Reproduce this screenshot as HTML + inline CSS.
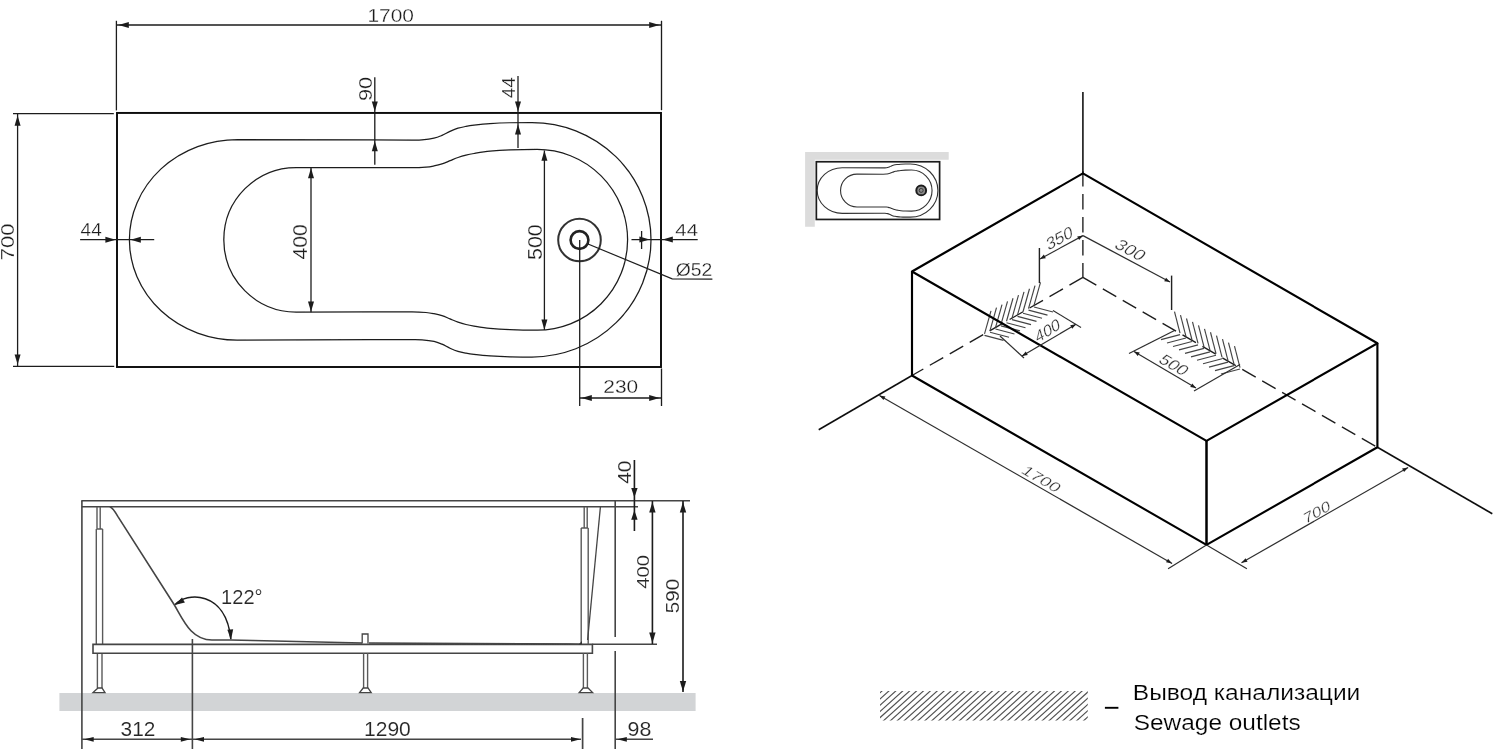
<!DOCTYPE html>
<html lang="ru">
<head>
<meta charset="utf-8">
<title>Bathtub dimensions</title>
<style>
html,body{margin:0;padding:0;background:#fff;}
body{width:1500px;height:749px;overflow:hidden;}
svg{display:block;}
text{white-space:pre;}
</style>
</head>
<body>
<svg width="1500" height="749" viewBox="0 0 1500 749">
<defs><filter id="soft" x="0" y="0" width="1500" height="749" filterUnits="userSpaceOnUse"><feGaussianBlur stdDeviation="0.42"/></filter></defs>
<rect x="0" y="0" width="1500" height="749" fill="#ffffff"/>
<g filter="url(#soft)">
<rect x="117.0" y="112.95" width="544.0" height="254.05" fill="none" stroke="#0a0a0a" stroke-width="1.95"/>
<path d="M 237.4 139.5 L 412 140 C 415.33 140.00 418.33 140.10 422.00 139.80 C 425.67 139.50 430.67 138.93 434.00 138.20 C 437.33 137.47 439.33 136.53 442.00 135.40 C 444.67 134.27 447.33 132.60 450.00 131.40 C 452.67 130.20 455.33 129.03 458.00 128.20 C 460.67 127.37 463.33 126.90 466.00 126.40 C 468.67 125.90 470.00 125.66 474.00 125.20 C 478.00 124.74 484.00 124.06 490.00 123.65 C 496.00 123.24 503.00 122.92 510.00 122.75 C 517.00 122.58 524.67 122.60 532.00 122.60 A 119 117.2 0 0 1 532 357.00 C 524.67 357.00 517.00 357.03 510.00 356.85 C 503.00 356.68 496.00 356.36 490.00 355.95 C 484.00 355.54 478.00 354.86 474.00 354.40 C 470.00 353.94 468.67 353.70 466.00 353.20 C 463.33 352.70 460.67 352.23 458.00 351.40 C 455.33 350.57 452.67 349.40 450.00 348.20 C 447.33 347.00 444.67 345.33 442.00 344.20 C 439.33 343.07 437.33 342.13 434.00 341.40 C 430.67 340.67 425.67 340.10 422.00 339.80 C 418.33 339.50 415.33 339.60 412.00 339.60 L 237.4 340.10 A 108 100.3 0 0 1 237.4 139.5 Z" stroke="#1c1c1c" stroke-width="1.25" fill="none" />
<path d="M 296.1 167.5 L 412 167.7 C 416.67 167.70 422.33 167.40 426.00 167.10 C 429.67 166.80 431.33 166.43 434.00 165.90 C 436.67 165.37 439.33 164.77 442.00 163.90 C 444.67 163.03 447.33 161.77 450.00 160.70 C 452.67 159.63 455.33 158.43 458.00 157.50 C 460.67 156.57 463.33 155.77 466.00 155.10 C 468.67 154.43 470.00 154.15 474.00 153.50 C 478.00 152.85 484.00 151.80 490.00 151.20 C 496.00 150.60 502.13 150.20 510.00 149.90 C 517.87 149.60 528.13 149.40 537.20 149.40 A 90.4 90.4 0 0 1 537.2 330.20 C 528.13 330.20 517.87 330.00 510.00 329.70 C 502.13 329.40 496.00 329.00 490.00 328.40 C 484.00 327.80 478.00 326.75 474.00 326.10 C 470.00 325.45 468.67 325.17 466.00 324.50 C 463.33 323.83 460.67 323.03 458.00 322.10 C 455.33 321.17 452.67 319.97 450.00 318.90 C 447.33 317.83 444.67 316.57 442.00 315.70 C 439.33 314.83 436.67 314.23 434.00 313.70 C 431.33 313.17 429.67 312.80 426.00 312.50 C 422.33 312.20 416.67 311.90 412.00 311.90 L 296.1 312.10 A 72.3 72.3 0 0 1 296.1 167.5 Z" stroke="#1c1c1c" stroke-width="1.25" fill="none" />
<circle cx="579.5" cy="240.0" r="21.3" fill="none" stroke="#333" stroke-width="2.0"/>
<circle cx="579.5" cy="240.0" r="8.9" fill="none" stroke="#222" stroke-width="2.6"/>
<line x1="116.40" y1="20.80" x2="116.40" y2="110.40" stroke="#1c1c1c" stroke-width="1.3" />
<line x1="661.50" y1="20.80" x2="661.50" y2="110.20" stroke="#1c1c1c" stroke-width="1.3" />
<line x1="117.00" y1="25.00" x2="661.50" y2="25.00" stroke="#1c1c1c" stroke-width="1.3" />
<polygon points="118.60,25.00 128.80,22.00 128.80,28.00" fill="#1c1c1c"/>
<polygon points="659.40,25.00 649.20,28.00 649.20,22.00" fill="#1c1c1c"/>
<text transform="translate(391.10,15.70) rotate(0) scale(1.1060,1) translate(-21.402,6.511)" font-family='"Liberation Sans", sans-serif' font-size="18.94" fill="#1c1c1c" stroke="#fff" stroke-width="0.26">1700</text>
<line x1="13.00" y1="113.60" x2="113.80" y2="113.60" stroke="#1c1c1c" stroke-width="1.3" />
<line x1="13.00" y1="366.35" x2="114.20" y2="366.35" stroke="#1c1c1c" stroke-width="1.3" />
<line x1="17.60" y1="114.00" x2="17.60" y2="366.40" stroke="#1c1c1c" stroke-width="1.3" />
<polygon points="17.60,115.60 20.60,125.80 14.60,125.80" fill="#1c1c1c"/>
<polygon points="17.60,364.60 14.60,354.40 20.60,354.40" fill="#1c1c1c"/>
<text transform="translate(8.00,241.70) rotate(-90) scale(1.2174,1) translate(-15.197,6.219)" font-family='"Liberation Sans", sans-serif' font-size="18.09" fill="#1c1c1c" stroke="#fff" stroke-width="0.26">700</text>
<line x1="374.80" y1="77.30" x2="374.80" y2="164.80" stroke="#1c1c1c" stroke-width="1.3" />
<polygon points="374.80,111.60 371.80,101.40 377.80,101.40" fill="#1c1c1c"/>
<polygon points="374.80,141.00 377.80,151.20 371.80,151.20" fill="#1c1c1c"/>
<text transform="translate(365.05,88.80) rotate(-90) scale(1.1453,1) translate(-10.686,6.559)" font-family='"Liberation Sans", sans-serif' font-size="19.08" fill="#1c1c1c" stroke="#fff" stroke-width="0.26">90</text>
<line x1="518.00" y1="76.00" x2="518.00" y2="148.10" stroke="#1c1c1c" stroke-width="1.3" />
<polygon points="518.00,111.60 515.00,101.40 521.00,101.40" fill="#1c1c1c"/>
<polygon points="518.00,124.20 521.00,134.40 515.00,134.40" fill="#1c1c1c"/>
<text transform="translate(508.90,87.70) rotate(-90) scale(1.0235,1) translate(-10.287,6.400)" font-family='"Liberation Sans", sans-serif' font-size="18.62" fill="#1c1c1c" stroke="#fff" stroke-width="0.26">44</text>
<line x1="80.10" y1="239.65" x2="154.20" y2="239.65" stroke="#1c1c1c" stroke-width="1.3" />
<polygon points="115.60,239.65 105.40,242.65 105.40,236.65" fill="#1c1c1c"/>
<polygon points="130.60,239.65 140.80,236.65 140.80,242.65" fill="#1c1c1c"/>
<text transform="translate(91.10,230.38) rotate(0) scale(1.0783,1) translate(-9.764,6.075)" font-family='"Liberation Sans", sans-serif' font-size="17.67" fill="#1c1c1c" stroke="#fff" stroke-width="0.26">44</text>
<line x1="631.50" y1="239.60" x2="697.70" y2="239.60" stroke="#1c1c1c" stroke-width="1.3" />
<polygon points="649.60,239.60 639.40,242.60 639.40,236.60" fill="#1c1c1c"/>
<polygon points="662.60,239.60 672.80,236.60 672.80,242.60" fill="#1c1c1c"/>
<line x1="641.60" y1="231.00" x2="641.60" y2="249.00" stroke="#1c1c1c" stroke-width="1.3" />
<text transform="translate(686.60,230.30) rotate(0) scale(1.2289,1) translate(-9.161,5.700)" font-family='"Liberation Sans", sans-serif' font-size="16.58" fill="#1c1c1c" stroke="#fff" stroke-width="0.26">44</text>
<line x1="311.00" y1="167.60" x2="311.00" y2="312.30" stroke="#1c1c1c" stroke-width="1.3" />
<polygon points="311.00,168.00 314.00,178.20 308.00,178.20" fill="#1c1c1c"/>
<polygon points="311.00,311.80 308.00,301.60 314.00,301.60" fill="#1c1c1c"/>
<text transform="translate(300.05,242.05) rotate(-90) scale(1.0644,1) translate(-16.467,6.851)" font-family='"Liberation Sans", sans-serif' font-size="19.93" fill="#1c1c1c" stroke="#fff" stroke-width="0.26">400</text>
<line x1="544.40" y1="150.50" x2="544.40" y2="330.00" stroke="#1c1c1c" stroke-width="1.3" />
<polygon points="544.40,150.60 547.40,160.80 541.40,160.80" fill="#1c1c1c"/>
<polygon points="544.40,329.80 541.40,319.60 547.40,319.60" fill="#1c1c1c"/>
<text transform="translate(534.40,242.10) rotate(-90) scale(1.0282,1) translate(-17.467,7.191)" font-family='"Liberation Sans", sans-serif' font-size="20.92" fill="#1c1c1c" stroke="#fff" stroke-width="0.26">500</text>
<path d="M 588.0 244.0 L 672.2 278.8 L 712.4 279.2" stroke="#1c1c1c" stroke-width="1.3" fill="none" />
<text transform="translate(693.95,269.55) rotate(0) scale(1.0039,1) translate(-18.056,6.620)" font-family='"Liberation Sans", sans-serif' font-size="19.26" fill="#1c1c1c" stroke="#fff" stroke-width="0.26">Ø52</text>
<line x1="579.70" y1="240.00" x2="579.70" y2="406.00" stroke="#1c1c1c" stroke-width="1.3" />
<line x1="661.50" y1="368.50" x2="661.50" y2="406.00" stroke="#1c1c1c" stroke-width="1.3" />
<line x1="579.70" y1="398.00" x2="661.50" y2="398.00" stroke="#1c1c1c" stroke-width="1.3" />
<polygon points="581.60,398.00 591.80,395.00 591.80,401.00" fill="#1c1c1c"/>
<polygon points="659.40,398.00 649.20,401.00 649.20,395.00" fill="#1c1c1c"/>
<text transform="translate(620.85,386.45) rotate(0) scale(1.0913,1) translate(-16.028,6.559)" font-family='"Liberation Sans", sans-serif' font-size="19.08" fill="#1c1c1c" stroke="#fff" stroke-width="0.26">230</text>
<rect x="59.4" y="693" width="636.2" height="18" fill="#d2d4d6"/>
<line x1="81.30" y1="500.70" x2="690.00" y2="500.70" stroke="#444444" stroke-width="1.6" />
<line x1="81.70" y1="506.80" x2="638.00" y2="506.80" stroke="#444444" stroke-width="1.6" />
<line x1="81.90" y1="500.70" x2="81.90" y2="749.00" stroke="#444444" stroke-width="1.6" />
<path d="M 97 507 L 97 529 M 100.2 507 L 100.2 529 M 96.3 529 L 102.6 529 M 96.3 529 L 96.3 644.4 M 102.6 529 L 102.6 644.4" stroke="#5a5a5a" stroke-width="1.4" fill="none" />
<path d="M 97.4 653.2 L 97.4 688 M 102 653.2 L 102 688" stroke="#5a5a5a" stroke-width="1.4" fill="none" />
<path d="M 98 688 L 102 688 L 105 692.6 L 93 692.6 Z" stroke="#444444" stroke-width="1.3" fill="#fff" />
<path d="M 93 644.4 L 592.4 644.4 L 592.4 653.2 L 93 653.2 Z" stroke="#444444" stroke-width="1.6" fill="none" />
<path d="M 109.8 506.8 C 113 508 115 511.5 117.8 516.4 L 174.4 605 C 183 619.5 191 640 212 640 L 231 640 L 362 643 M 369 643 L 580 644.2" stroke="#444444" stroke-width="1.6" fill="none" />
<path d="M 362.2 643.4 L 362.2 634 L 368 634 L 368 643.4" stroke="#444444" stroke-width="1.3" fill="none" />
<path d="M 363.6 653.2 L 363.6 688 M 367.6 653.2 L 367.6 688" stroke="#5a5a5a" stroke-width="1.4" fill="none" />
<path d="M 363.2 688 L 368 688 L 371.2 692.6 L 359.6 692.6 Z" stroke="#444444" stroke-width="1.3" fill="#fff" />
<path d="M 584.2 507 L 584.2 528 M 587.2 507 L 587.2 528 M 581.2 528 L 588.2 528 M 581.2 528 L 581.2 644.4 M 588.2 528 L 588.2 644.4" stroke="#5a5a5a" stroke-width="1.4" fill="none" />
<path d="M 583.4 653.2 L 583.4 688 M 587.4 653.2 L 587.4 688" stroke="#5a5a5a" stroke-width="1.4" fill="none" />
<path d="M 583.2 688 L 588 688 L 592.6 692.6 L 579.2 692.6 Z" stroke="#444444" stroke-width="1.3" fill="#fff" />
<path d="M 600.4 507 L 587.6 640" stroke="#444444" stroke-width="1.3" fill="none" />
<polygon points="578.6,644.4 582,641 582,644.4" fill="#333"/>
<line x1="615.20" y1="500.70" x2="615.20" y2="637.00" stroke="#444444" stroke-width="1.6" />
<line x1="615.20" y1="651.00" x2="615.20" y2="749.00" stroke="#444444" stroke-width="1.6" />
<path d="M 175.2 604.6 C 186 592 226 590 230.8 639" stroke="#1c1c1c" stroke-width="1.5" fill="none" />
<polygon points="174.80,605.00 182.01,597.49 184.91,602.51" fill="#1c1c1c"/>
<polygon points="231.00,640.00 227.37,629.73 233.16,629.32" fill="#1c1c1c"/>
<text transform="translate(242.00,597.50) rotate(0) scale(1.0148,1) translate(-20.601,6.900)" font-family='"Liberation Sans", sans-serif' font-size="19.78" fill="#262626" stroke="#fff" stroke-width="0.12">122°</text>
<line x1="192.40" y1="639.00" x2="192.40" y2="749.00" stroke="#444444" stroke-width="1.6" />
<line x1="82.10" y1="739.30" x2="581.00" y2="739.30" stroke="#444444" stroke-width="1.5" />
<polygon points="84.20,739.30 93.70,736.90 93.70,741.70" fill="#1c1c1c"/>
<polygon points="190.30,739.30 180.80,741.70 180.80,736.90" fill="#1c1c1c"/>
<polygon points="194.50,739.30 204.00,736.90 204.00,741.70" fill="#1c1c1c"/>
<polygon points="580.50,739.30 571.00,741.70 571.00,736.90" fill="#1c1c1c"/>
<line x1="582.60" y1="718.00" x2="582.60" y2="749.00" stroke="#444444" stroke-width="1.7" />
<line x1="615.20" y1="739.30" x2="653.00" y2="739.30" stroke="#444444" stroke-width="1.5" />
<polygon points="617.30,739.30 626.80,736.90 626.80,741.70" fill="#1c1c1c"/>
<text transform="translate(137.90,729.60) rotate(0) scale(1.0406,1) translate(-16.608,6.899)" font-family='"Liberation Sans", sans-serif' font-size="20.07" fill="#262626" stroke="#fff" stroke-width="0.12">312</text>
<text transform="translate(387.80,729.60) rotate(0) scale(1.0484,1) translate(-22.680,6.899)" font-family='"Liberation Sans", sans-serif' font-size="20.07" fill="#262626" stroke="#fff" stroke-width="0.12">1290</text>
<text transform="translate(639.50,729.60) rotate(0) scale(1.0649,1) translate(-11.189,6.899)" font-family='"Liberation Sans", sans-serif' font-size="20.07" fill="#262626" stroke="#fff" stroke-width="0.12">98</text>
<line x1="634.40" y1="460.00" x2="634.40" y2="531.00" stroke="#1c1c1c" stroke-width="1.6" />
<polygon points="634.40,497.60 631.20,488.10 637.60,488.10" fill="#1c1c1c"/>
<polygon points="634.40,510.20 637.60,519.70 631.20,519.70" fill="#1c1c1c"/>
<text transform="translate(625.00,472.50) rotate(-90) scale(1.1476,1) translate(-9.905,6.219)" font-family='"Liberation Sans", sans-serif' font-size="18.09" fill="#262626" stroke="#fff" stroke-width="0.12">40</text>
<line x1="592.40" y1="644.20" x2="657.00" y2="644.20" stroke="#444444" stroke-width="1.5" />
<line x1="652.40" y1="501.00" x2="652.40" y2="644.00" stroke="#1c1c1c" stroke-width="1.6" />
<polygon points="652.40,502.00 655.60,512.50 649.20,512.50" fill="#1c1c1c"/>
<polygon points="652.40,643.00 649.20,632.50 655.60,632.50" fill="#1c1c1c"/>
<text transform="translate(643.50,572.00) rotate(-90) scale(1.2234,1) translate(-13.781,5.733)" font-family='"Liberation Sans", sans-serif' font-size="16.68" fill="#262626" stroke="#fff" stroke-width="0.12">400</text>
<line x1="683.00" y1="501.00" x2="683.00" y2="692.00" stroke="#1c1c1c" stroke-width="1.6" />
<polygon points="683.00,502.00 686.20,512.50 679.80,512.50" fill="#1c1c1c"/>
<polygon points="683.00,691.60 679.80,681.10 686.20,681.10" fill="#1c1c1c"/>
<text transform="translate(673.00,596.00) rotate(-90) scale(1.1402,1) translate(-15.107,6.219)" font-family='"Liberation Sans", sans-serif' font-size="18.09" fill="#262626" stroke="#fff" stroke-width="0.12">590</text>
<path d="M 805.1 152 L 948.7 152 L 948.7 159.8 L 814.8 159.8 L 814.8 226.7 L 805.1 226.7 Z" fill="#dcdcdc"/>
<rect x="816.35" y="161.75" width="123.25" height="57.69999999999999" fill="#fff" stroke="#1a1a1a" stroke-width="1.7"/>
<g transform="translate(817.2,161.75) scale(0.2314,0.2271) translate(-129.4,-112.95)">
<path d="M 237.4 139.5 L 412 140 C 415.33 140.00 418.33 140.10 422.00 139.80 C 425.67 139.50 430.67 138.93 434.00 138.20 C 437.33 137.47 439.33 136.53 442.00 135.40 C 444.67 134.27 447.33 132.60 450.00 131.40 C 452.67 130.20 455.33 129.03 458.00 128.20 C 460.67 127.37 463.33 126.90 466.00 126.40 C 468.67 125.90 470.00 125.66 474.00 125.20 C 478.00 124.74 484.00 124.06 490.00 123.65 C 496.00 123.24 503.00 122.92 510.00 122.75 C 517.00 122.58 524.67 122.60 532.00 122.60 A 119 117.2 0 0 1 532 357.00 C 524.67 357.00 517.00 357.03 510.00 356.85 C 503.00 356.68 496.00 356.36 490.00 355.95 C 484.00 355.54 478.00 354.86 474.00 354.40 C 470.00 353.94 468.67 353.70 466.00 353.20 C 463.33 352.70 460.67 352.23 458.00 351.40 C 455.33 350.57 452.67 349.40 450.00 348.20 C 447.33 347.00 444.67 345.33 442.00 344.20 C 439.33 343.07 437.33 342.13 434.00 341.40 C 430.67 340.67 425.67 340.10 422.00 339.80 C 418.33 339.50 415.33 339.60 412.00 339.60 L 237.4 340.10 A 108 100.3 0 0 1 237.4 139.5 Z" fill="none" stroke="#333" stroke-width="1.1" vector-effect="non-scaling-stroke"/>
</g>
<g transform="translate(816.35,161.75) scale(0.2266,0.2271) translate(-117.0,-112.95)">
<path d="M 296.1 167.5 L 412 167.7 C 416.67 167.70 422.33 167.40 426.00 167.10 C 429.67 166.80 431.33 166.43 434.00 165.90 C 436.67 165.37 439.33 164.77 442.00 163.90 C 444.67 163.03 447.33 161.77 450.00 160.70 C 452.67 159.63 455.33 158.43 458.00 157.50 C 460.67 156.57 463.33 155.77 466.00 155.10 C 468.67 154.43 470.00 154.15 474.00 153.50 C 478.00 152.85 484.00 151.80 490.00 151.20 C 496.00 150.60 502.13 150.20 510.00 149.90 C 517.87 149.60 528.13 149.40 537.20 149.40 A 90.4 90.4 0 0 1 537.2 330.20 C 528.13 330.20 517.87 330.00 510.00 329.70 C 502.13 329.40 496.00 329.00 490.00 328.40 C 484.00 327.80 478.00 326.75 474.00 326.10 C 470.00 325.45 468.67 325.17 466.00 324.50 C 463.33 323.83 460.67 323.03 458.00 322.10 C 455.33 321.17 452.67 319.97 450.00 318.90 C 447.33 317.83 444.67 316.57 442.00 315.70 C 439.33 314.83 436.67 314.23 434.00 313.70 C 431.33 313.17 429.67 312.80 426.00 312.50 C 422.33 312.20 416.67 311.90 412.00 311.90 L 296.1 312.10 A 72.3 72.3 0 0 1 296.1 167.5 Z" fill="none" stroke="#333" stroke-width="1.1" vector-effect="non-scaling-stroke"/>
</g>
<circle cx="921.2" cy="190.4" r="4.9" fill="#8a8a8a" stroke="#1a1a1a" stroke-width="2.0"/>
<circle cx="921.2" cy="190.4" r="2.0" fill="none" stroke="#333" stroke-width="0.9"/>
<line x1="1082.90" y1="92.00" x2="1082.90" y2="173.40" stroke="#222" stroke-width="1.7" />
<line x1="1082.90" y1="170.90" x2="1082.90" y2="277.40" stroke="#1c1c1c" stroke-width="1.35" stroke-dasharray="15.5 7.5"/>
<line x1="1082.90" y1="277.40" x2="912.00" y2="375.50" stroke="#1c1c1c" stroke-width="1.35" stroke-dasharray="15.5 7.5"/>
<line x1="1082.90" y1="277.40" x2="1377.40" y2="447.30" stroke="#1c1c1c" stroke-width="1.35" stroke-dasharray="15.5 7.5"/>
<line x1="912.00" y1="375.50" x2="818.70" y2="429.70" stroke="#111" stroke-width="1.6" />
<line x1="1377.40" y1="447.30" x2="1492.30" y2="513.80" stroke="#111" stroke-width="1.6" />
<line x1="1034.00" y1="305.45" x2="1040.50" y2="282.45" stroke="#444" stroke-width="1.15" />
<line x1="1034.00" y1="306.95" x2="1053.00" y2="311.95" stroke="#444" stroke-width="1.15" />
<line x1="1028.50" y1="308.61" x2="1035.00" y2="285.61" stroke="#444" stroke-width="1.15" />
<line x1="1028.50" y1="310.11" x2="1047.50" y2="315.11" stroke="#444" stroke-width="1.15" />
<line x1="1023.00" y1="311.76" x2="1029.50" y2="288.76" stroke="#444" stroke-width="1.15" />
<line x1="1023.00" y1="313.26" x2="1042.00" y2="318.26" stroke="#444" stroke-width="1.15" />
<line x1="1017.50" y1="314.92" x2="1024.00" y2="291.92" stroke="#444" stroke-width="1.15" />
<line x1="1017.50" y1="316.42" x2="1036.50" y2="321.42" stroke="#444" stroke-width="1.15" />
<line x1="1012.00" y1="318.08" x2="1018.50" y2="295.08" stroke="#444" stroke-width="1.15" />
<line x1="1012.00" y1="319.58" x2="1031.00" y2="324.58" stroke="#444" stroke-width="1.15" />
<line x1="1006.50" y1="321.23" x2="1013.00" y2="298.23" stroke="#444" stroke-width="1.15" />
<line x1="1006.50" y1="322.73" x2="1025.50" y2="327.73" stroke="#444" stroke-width="1.15" />
<line x1="1001.00" y1="324.39" x2="1007.50" y2="301.39" stroke="#444" stroke-width="1.15" />
<line x1="1001.00" y1="325.89" x2="1020.00" y2="330.89" stroke="#444" stroke-width="1.15" />
<line x1="995.50" y1="327.54" x2="1002.00" y2="304.54" stroke="#444" stroke-width="1.15" />
<line x1="995.50" y1="329.04" x2="1014.50" y2="334.04" stroke="#444" stroke-width="1.15" />
<line x1="990.00" y1="330.70" x2="996.50" y2="307.70" stroke="#444" stroke-width="1.15" />
<line x1="990.00" y1="332.20" x2="1009.00" y2="337.20" stroke="#444" stroke-width="1.15" />
<line x1="984.50" y1="333.85" x2="991.00" y2="310.85" stroke="#444" stroke-width="1.15" />
<line x1="984.50" y1="335.35" x2="1003.50" y2="340.35" stroke="#444" stroke-width="1.15" />
<line x1="1180.00" y1="333.11" x2="1174.50" y2="311.61" stroke="#444" stroke-width="1.15" />
<line x1="1180.00" y1="334.61" x2="1161.00" y2="339.61" stroke="#444" stroke-width="1.15" />
<line x1="1186.00" y1="336.55" x2="1180.50" y2="315.05" stroke="#444" stroke-width="1.15" />
<line x1="1186.00" y1="338.05" x2="1167.00" y2="343.05" stroke="#444" stroke-width="1.15" />
<line x1="1192.00" y1="339.99" x2="1186.50" y2="318.49" stroke="#444" stroke-width="1.15" />
<line x1="1192.00" y1="341.49" x2="1173.00" y2="346.49" stroke="#444" stroke-width="1.15" />
<line x1="1198.00" y1="343.43" x2="1192.50" y2="321.93" stroke="#444" stroke-width="1.15" />
<line x1="1198.00" y1="344.93" x2="1179.00" y2="349.93" stroke="#444" stroke-width="1.15" />
<line x1="1204.00" y1="346.88" x2="1198.50" y2="325.38" stroke="#444" stroke-width="1.15" />
<line x1="1204.00" y1="348.38" x2="1185.00" y2="353.38" stroke="#444" stroke-width="1.15" />
<line x1="1210.00" y1="350.32" x2="1204.50" y2="328.82" stroke="#444" stroke-width="1.15" />
<line x1="1210.00" y1="351.82" x2="1191.00" y2="356.82" stroke="#444" stroke-width="1.15" />
<line x1="1216.00" y1="353.76" x2="1210.50" y2="332.26" stroke="#444" stroke-width="1.15" />
<line x1="1216.00" y1="355.26" x2="1197.00" y2="360.26" stroke="#444" stroke-width="1.15" />
<line x1="1222.00" y1="357.20" x2="1216.50" y2="335.70" stroke="#444" stroke-width="1.15" />
<line x1="1222.00" y1="358.70" x2="1203.00" y2="363.70" stroke="#444" stroke-width="1.15" />
<line x1="1228.00" y1="360.64" x2="1222.50" y2="339.14" stroke="#444" stroke-width="1.15" />
<line x1="1228.00" y1="362.14" x2="1209.00" y2="367.14" stroke="#444" stroke-width="1.15" />
<line x1="1234.00" y1="364.09" x2="1228.50" y2="342.59" stroke="#444" stroke-width="1.15" />
<line x1="1234.00" y1="365.59" x2="1215.00" y2="370.59" stroke="#444" stroke-width="1.15" />
<line x1="1240.00" y1="367.53" x2="1234.50" y2="346.03" stroke="#444" stroke-width="1.15" />
<line x1="1240.00" y1="369.03" x2="1221.00" y2="374.03" stroke="#444" stroke-width="1.15" />
<path d="M 1082.9 173.4 L 912.0 271.5 L 1206.5 440.9 L 1377.4 343.3 Z" stroke="#000" stroke-width="2.15" fill="none" stroke-linejoin="round"/>
<path d="M 912.0 271.5 L 912.0 375.5 L 1206.5 544.9 L 1377.4 447.3 L 1377.4 343.3" stroke="#000" stroke-width="2.15" fill="none" stroke-linejoin="round"/>
<line x1="1206.50" y1="440.90" x2="1206.50" y2="544.90" stroke="#000" stroke-width="2.5" />
<line x1="1206.50" y1="544.90" x2="1168.10" y2="568.80" stroke="#2e2e2e" stroke-width="1.2" />
<line x1="879.40" y1="395.40" x2="1172.10" y2="563.40" stroke="#2e2e2e" stroke-width="1.2" />
<polygon points="879.40,395.40 885.42,396.56 883.43,400.03" fill="#1c1c1c"/>
<polygon points="1172.10,563.40 1166.08,562.24 1168.07,558.77" fill="#1c1c1c"/>
<text transform="translate(1041.80,479.20) rotate(29.9) skewX(-16) scale(1.3077,1) translate(-15.972,4.859)" font-family='"Liberation Sans", sans-serif' font-size="14.13" fill="#2e2e2e" stroke="#fff" stroke-width="0.26">1700</text>
<line x1="1206.50" y1="544.90" x2="1246.90" y2="568.80" stroke="#2e2e2e" stroke-width="1.2" />
<line x1="1241.50" y1="562.80" x2="1408.10" y2="467.40" stroke="#2e2e2e" stroke-width="1.2" />
<polygon points="1241.50,562.80 1245.54,558.18 1247.53,561.65" fill="#1c1c1c"/>
<polygon points="1408.10,467.40 1404.06,472.02 1402.07,468.55" fill="#1c1c1c"/>
<text transform="translate(1317.00,512.00) rotate(-29.8) skewX(-16) scale(1.2538,1) translate(-11.873,4.859)" font-family='"Liberation Sans", sans-serif' font-size="14.13" fill="#2e2e2e" stroke="#fff" stroke-width="0.26">700</text>
<line x1="1039.40" y1="248.00" x2="1039.40" y2="283.00" stroke="#222" stroke-width="1.4" />
<line x1="1040.00" y1="259.00" x2="1083.00" y2="235.60" stroke="#2e2e2e" stroke-width="1.2" />
<polygon points="1040.00,259.00 1043.88,254.62 1045.79,258.13" fill="#1c1c1c"/>
<polygon points="1083.00,235.60 1079.12,239.98 1077.21,236.47" fill="#1c1c1c"/>
<text transform="translate(1059.50,238.00) rotate(-28.5) skewX(-16) scale(1.0817,1) translate(-13.552,5.587)" font-family='"Liberation Sans", sans-serif' font-size="16.25" fill="#2e2e2e" stroke="#fff" stroke-width="0.26">350</text>
<line x1="1171.60" y1="275.60" x2="1171.60" y2="310.00" stroke="#222" stroke-width="1.4" />
<line x1="1083.00" y1="235.60" x2="1170.00" y2="282.00" stroke="#2e2e2e" stroke-width="1.2" />
<polygon points="1170.00,282.00 1164.20,281.18 1166.08,277.65" fill="#1c1c1c"/>
<text transform="translate(1130.50,250.00) rotate(28) skewX(-16) scale(1.1203,1) translate(-13.552,5.587)" font-family='"Liberation Sans", sans-serif' font-size="16.25" fill="#2e2e2e" stroke="#fff" stroke-width="0.26">300</text>
<line x1="1053.00" y1="310.50" x2="1081.00" y2="327.50" stroke="#2e2e2e" stroke-width="1.2" />
<line x1="1000.00" y1="336.00" x2="1024.00" y2="358.00" stroke="#2e2e2e" stroke-width="1.2" />
<line x1="1076.00" y1="324.30" x2="1022.00" y2="356.00" stroke="#2e2e2e" stroke-width="1.2" />
<polygon points="1076.00,324.30 1072.28,328.81 1070.25,325.37" fill="#1c1c1c"/>
<polygon points="1022.00,356.00 1025.72,351.49 1027.75,354.93" fill="#1c1c1c"/>
<text transform="translate(1047.50,330.50) rotate(-32) skewX(-16) scale(1.0803,1) translate(-12.846,5.345)" font-family='"Liberation Sans", sans-serif' font-size="15.55" fill="#2e2e2e" stroke="#fff" stroke-width="0.26">400</text>
<line x1="1174.50" y1="330.50" x2="1129.00" y2="353.50" stroke="#2e2e2e" stroke-width="1.2" />
<line x1="1240.00" y1="364.50" x2="1194.00" y2="391.00" stroke="#2e2e2e" stroke-width="1.2" />
<line x1="1134.00" y1="351.40" x2="1196.00" y2="388.00" stroke="#2e2e2e" stroke-width="1.2" />
<polygon points="1134.00,351.40 1139.75,352.47 1137.72,355.91" fill="#1c1c1c"/>
<polygon points="1196.00,388.00 1190.25,386.93 1192.28,383.49" fill="#1c1c1c"/>
<text transform="translate(1174.00,365.00) rotate(30) skewX(-16) scale(1.1326,1) translate(-12.982,5.345)" font-family='"Liberation Sans", sans-serif' font-size="15.55" fill="#2e2e2e" stroke="#fff" stroke-width="0.26">500</text>
<clipPath id="lh"><rect x="880" y="691" width="207.8" height="29.6"/></clipPath>
<g clip-path="url(#lh)">
<line x1="840.00" y1="722.60" x2="877.30" y2="689.00" stroke="#505050" stroke-width="1.15" />
<line x1="846.90" y1="722.60" x2="884.20" y2="689.00" stroke="#505050" stroke-width="1.15" />
<line x1="853.80" y1="722.60" x2="891.10" y2="689.00" stroke="#505050" stroke-width="1.15" />
<line x1="860.70" y1="722.60" x2="898.00" y2="689.00" stroke="#505050" stroke-width="1.15" />
<line x1="867.60" y1="722.60" x2="904.90" y2="689.00" stroke="#505050" stroke-width="1.15" />
<line x1="874.50" y1="722.60" x2="911.80" y2="689.00" stroke="#505050" stroke-width="1.15" />
<line x1="881.40" y1="722.60" x2="918.70" y2="689.00" stroke="#505050" stroke-width="1.15" />
<line x1="888.30" y1="722.60" x2="925.60" y2="689.00" stroke="#505050" stroke-width="1.15" />
<line x1="895.20" y1="722.60" x2="932.50" y2="689.00" stroke="#505050" stroke-width="1.15" />
<line x1="902.10" y1="722.60" x2="939.40" y2="689.00" stroke="#505050" stroke-width="1.15" />
<line x1="909.00" y1="722.60" x2="946.30" y2="689.00" stroke="#505050" stroke-width="1.15" />
<line x1="915.90" y1="722.60" x2="953.20" y2="689.00" stroke="#505050" stroke-width="1.15" />
<line x1="922.80" y1="722.60" x2="960.10" y2="689.00" stroke="#505050" stroke-width="1.15" />
<line x1="929.70" y1="722.60" x2="967.00" y2="689.00" stroke="#505050" stroke-width="1.15" />
<line x1="936.60" y1="722.60" x2="973.90" y2="689.00" stroke="#505050" stroke-width="1.15" />
<line x1="943.50" y1="722.60" x2="980.80" y2="689.00" stroke="#505050" stroke-width="1.15" />
<line x1="950.40" y1="722.60" x2="987.70" y2="689.00" stroke="#505050" stroke-width="1.15" />
<line x1="957.30" y1="722.60" x2="994.60" y2="689.00" stroke="#505050" stroke-width="1.15" />
<line x1="964.20" y1="722.60" x2="1001.50" y2="689.00" stroke="#505050" stroke-width="1.15" />
<line x1="971.10" y1="722.60" x2="1008.40" y2="689.00" stroke="#505050" stroke-width="1.15" />
<line x1="978.00" y1="722.60" x2="1015.30" y2="689.00" stroke="#505050" stroke-width="1.15" />
<line x1="984.90" y1="722.60" x2="1022.20" y2="689.00" stroke="#505050" stroke-width="1.15" />
<line x1="991.80" y1="722.60" x2="1029.10" y2="689.00" stroke="#505050" stroke-width="1.15" />
<line x1="998.70" y1="722.60" x2="1036.00" y2="689.00" stroke="#505050" stroke-width="1.15" />
<line x1="1005.60" y1="722.60" x2="1042.90" y2="689.00" stroke="#505050" stroke-width="1.15" />
<line x1="1012.50" y1="722.60" x2="1049.80" y2="689.00" stroke="#505050" stroke-width="1.15" />
<line x1="1019.40" y1="722.60" x2="1056.70" y2="689.00" stroke="#505050" stroke-width="1.15" />
<line x1="1026.30" y1="722.60" x2="1063.60" y2="689.00" stroke="#505050" stroke-width="1.15" />
<line x1="1033.20" y1="722.60" x2="1070.50" y2="689.00" stroke="#505050" stroke-width="1.15" />
<line x1="1040.10" y1="722.60" x2="1077.40" y2="689.00" stroke="#505050" stroke-width="1.15" />
<line x1="1047.00" y1="722.60" x2="1084.30" y2="689.00" stroke="#505050" stroke-width="1.15" />
<line x1="1053.90" y1="722.60" x2="1091.20" y2="689.00" stroke="#505050" stroke-width="1.15" />
<line x1="1060.80" y1="722.60" x2="1098.10" y2="689.00" stroke="#505050" stroke-width="1.15" />
<line x1="1067.70" y1="722.60" x2="1105.00" y2="689.00" stroke="#505050" stroke-width="1.15" />
<line x1="1074.60" y1="722.60" x2="1111.90" y2="689.00" stroke="#505050" stroke-width="1.15" />
<line x1="1081.50" y1="722.60" x2="1118.80" y2="689.00" stroke="#505050" stroke-width="1.15" />
<line x1="1088.40" y1="722.60" x2="1125.70" y2="689.00" stroke="#505050" stroke-width="1.15" />
</g>
<line x1="1104.90" y1="707.80" x2="1118.40" y2="707.80" stroke="#000" stroke-width="1.9" />
<text transform="translate(1134.80,699.90) scale(1.1014,1) translate(-1.840,0)" font-family='"Liberation Sans", sans-serif' font-size="22.30" fill="#000" stroke="#fff" stroke-width="0.18">Вывод канализации</text>
<text transform="translate(1134.80,729.90) scale(1.0963,1) translate(-1.004,0)" font-family='"Liberation Sans", sans-serif' font-size="22.30" fill="#000" stroke="#fff" stroke-width="0.18">Sewage outlets</text>
</g>
</svg>
</body>
</html>
